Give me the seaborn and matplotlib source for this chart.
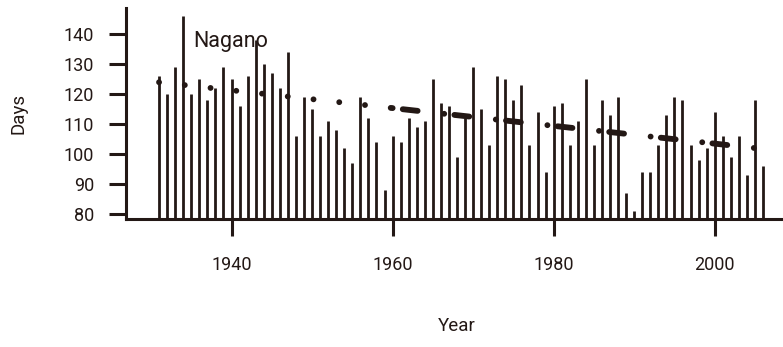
import matplotlib
matplotlib.use("Agg")
import matplotlib.pyplot as plt
import seaborn as sns

# Annual days (Nagano), 1931-2006
years = list(range(1931, 2007))
days = [126, 120, 129, 146, 120, 125, 118, 122, 129, 125, 116, 126, 138, 130, 127, 122, 134,
        106, 119, 115, 106, 111, 108, 102, 97, 119, 112, 104, 88, 106, 104, 112, 109, 111, 125,
        117, 116, 99, 112, 129, 115, 103, 126, 125, 118, 123, 103, 114, 94, 116, 117, 103, 111,
        125, 103, 118, 113, 119, 87, 81, 94, 94, 103, 113, 119, 118, 103, 98, 102, 114, 106,
        99, 106, 93, 118, 96]

# trend line end points
trend_years = [1931, 1960, 2006]
trend_days = [123.9, 115.3, 101.7]

x_ticks = [1940, 1960, 1980, 2000]
y_ticks = [80, 90, 100, 110, 120, 130, 140]

ink = "#231815"

sns.set_theme(style="ticks")
plt.rcParams["font.family"] = ["Roboto", "DejaVu Sans"]

fig = plt.figure(figsize=(7.83, 3.47), dpi=100)
ax = fig.add_axes([126 / 783, 128 / 347, 662 / 783, 211 / 347])

# vertical "h" style bars
ax.vlines(years, 0, days, color=ink, linewidth=2.0)

# trend line: dotted before 1960, dot-dash afterwards
ax.plot(trend_years[:2], trend_days[:2], color=ink, linewidth=4.2,
        linestyle=(0, (0.01, 4.43)), dash_capstyle="round")
ax.plot(trend_years[1:], trend_days[1:], color=ink, linewidth=4.2,
        linestyle=(0, (0.01, 1.75, 2.56, 4.58)), dash_capstyle="round")

ax.text(1935.2, 135.7, "Nagano", fontsize=15.5, color=ink, ha="left", va="baseline")

ax.set_xlim(1926.9, 2009.1)
ax.set_ylim(78.4, 148.6)
ax.set_xticks(x_ticks)
ax.set_yticks(y_ticks)
ax.tick_params(axis="both", colors=ink, labelcolor=ink, labelsize=13,
               length=12, width=2.2, direction="out")
ax.tick_params(axis="y", pad=11)
ax.tick_params(axis="x", pad=15)

sns.despine(ax=ax)
for side in ["left", "bottom"]:
    ax.spines[side].set_color(ink)
    ax.spines[side].set_linewidth(2.2)

ax.set_xlabel("Year", fontsize=13.5, color=ink)
ax.set_ylabel("Days", fontsize=13.5, color=ink)
ax.xaxis.set_label_coords(0.5, -0.4645)
ax.yaxis.set_label_coords(-0.1495, 0.5)

fig.savefig("out.png", dpi=100)
